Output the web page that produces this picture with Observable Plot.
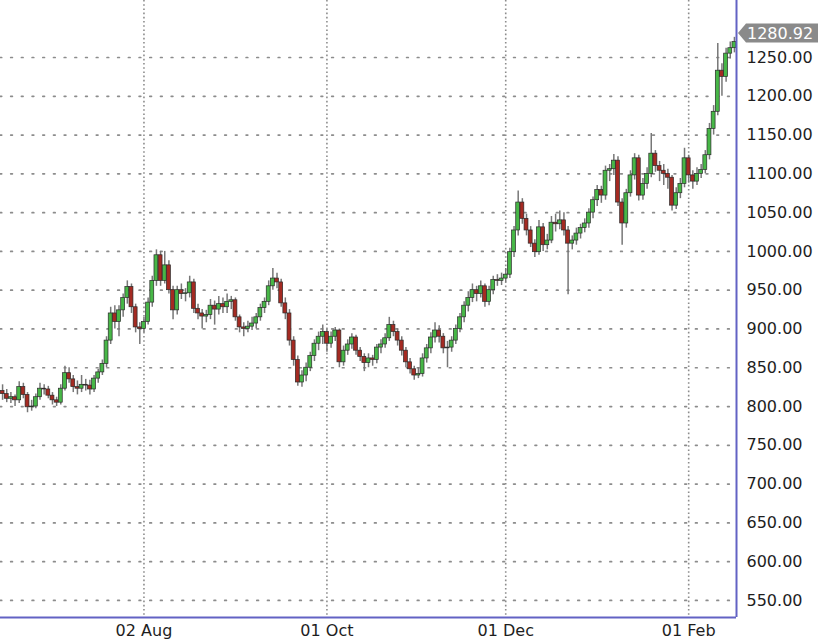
<!DOCTYPE html>
<html>
<head>
<meta charset="utf-8">
<script src="https://cdn.jsdelivr.net/npm/d3@7"></script>
<script src="https://cdn.jsdelivr.net/npm/@observablehq/plot@0.6"></script>
<style>
  html, body { margin: 0; padding: 0; background: #fff; }
  #chart { width: 818px; height: 641px; overflow: hidden; }
</style>
</head>
<body>
<div id="chart"></div>
<script>
// ---- Data ----
const startDate = "2010-06-15";   // first trading day shown
const tickDates = ["2010-08-02", "2010-10-01", "2010-12-01", "2011-02-01"];
const yTicks = [550, 600, 650, 700, 750, 800, 850, 900, 950, 1000, 1050, 1100, 1150, 1200, 1250];
const lastPrice = 1280.92;

const open = [
  820,816,810,812,808,825,815,799,800,812,
  823,822,814,808,805,823,843,835,825,823,
  828,827,822,836,844,855,885,920,909,924,
  940,954,928,902,900,909,934,962,995,962,
  982,950,924,950,945,946,960,926,920,916,
  918,930,925,932,928,935,937,915,902,900,
  903,907,915,927,935,955,965,960,933,920,
  885,860,831,840,850,865,881,890,896,881,
  890,898,857,872,880,889,872,864,856,862,
  860,876,880,888,905,896,885,872,857,848,
  840,842,862,875,889,898,890,875,876,885,
  900,915,930,940,950,945,955,935,950,963,
  962,965,970,999,1027,1063,1042,1027,1010,999,
  1031,1008,1014,1037,1035,1040,1027,1010,1014,1023,
  1030,1036,1050,1066,1079,1072,1104,1106,1117,1063,
  1036,1075,1098,1120,1072,1087,1100,1126,1110,1104,
  1100,1095,1059,1075,1087,1120,1098,1090,1100,1105,
  1124,1158,1180,1233,1225,1255,1262
];
const high = [
  828,822,818,815,832,830,818,808,816,830,
  828,826,818,812,828,852,850,840,833,840,
  835,834,840,848,860,890,928,930,930,945,
  962,958,932,908,915,940,968,1002,1000,1000,
  988,955,955,958,952,968,964,932,925,924,
  938,936,942,940,945,942,940,918,908,910,
  915,920,932,940,962,978,972,964,940,925,
  890,865,846,856,870,886,896,905,900,896,
  902,900,878,886,894,892,876,868,868,866,
  880,886,894,915,910,900,890,876,862,852,
  850,868,880,895,908,904,894,884,890,905,
  920,935,948,958,955,962,958,955,968,970,
  972,978,1004,1032,1078,1068,1048,1032,1015,1040,
  1036,1022,1045,1048,1052,1050,1032,1020,1030,1035,
  1042,1055,1070,1085,1084,1110,1112,1125,1122,1068,
  1080,1104,1126,1124,1094,1108,1152,1130,1116,1112,
  1106,1098,1082,1094,1133,1124,1104,1108,1112,1130,
  1165,1188,1268,1242,1262,1270,1276
];
const low = [
  808,805,804,800,804,810,792,794,797,808,
  815,810,802,800,802,820,830,818,815,818,
  820,815,818,830,840,850,880,900,890,915,
  932,920,895,880,895,905,928,955,955,958,
  945,912,918,938,935,940,920,912,900,908,
  912,905,918,920,920,925,910,895,890,895,
  898,900,910,920,930,950,952,928,912,878,
  852,826,825,832,845,858,872,880,870,875,
  884,850,852,866,874,866,858,845,850,852,
  855,868,875,884,890,878,865,850,842,834,
  836,838,856,868,882,882,868,850,870,880,
  895,908,922,934,935,940,928,930,944,955,
  956,960,965,992,1020,1035,1020,1005,992,995,
  1000,1002,1010,1025,1028,1020,944,1002,1008,1016,
  1024,1030,1042,1058,1062,1066,1090,1098,1058,1008,
  1030,1070,1092,1065,1066,1080,1095,1102,1090,1085,
  1080,1052,1054,1068,1082,1088,1080,1085,1094,1100,
  1118,1150,1175,1200,1218,1248,1256
];
const close = [
  816,810,812,808,825,815,799,800,812,823,
  822,814,808,805,823,843,835,825,823,828,
  827,822,836,844,855,885,920,909,924,940,
  954,928,902,900,909,934,962,995,962,982,
  950,924,950,945,946,960,926,920,916,918,
  930,925,932,928,935,937,915,902,900,903,
  907,915,927,935,955,965,960,933,920,885,
  860,831,840,850,865,881,890,896,881,890,
  898,857,872,880,889,872,864,856,862,860,
  876,880,888,905,896,885,872,857,848,840,
  842,862,875,889,898,890,875,876,885,900,
  915,930,940,950,945,955,935,950,963,962,
  965,970,999,1027,1063,1042,1027,1010,999,1031,
  1008,1014,1037,1035,1040,1027,1010,1014,1023,1030,
  1036,1050,1066,1079,1072,1104,1106,1117,1063,1036,
  1075,1098,1120,1072,1087,1100,1126,1110,1104,1100,
  1095,1059,1075,1087,1120,1098,1090,1100,1105,1124,
  1158,1180,1233,1225,1255,1262,1270
];

// ---- Build table ----
const n = close.length;
const dates = d3.utcDay.range(new Date(startDate), new Date("2011-12-31"))
  .filter(d => d.getUTCDay() !== 0 && d.getUTCDay() !== 6)
  .slice(0, n);
const fmt = d3.utcFormat("%d %b");
const data = close.map((c, i) => ({i, date: dates[i], open: open[i], high: high[i], low: low[i], close: c}));
const tickIdx = tickDates.map(s => dates.findIndex(d => +d === +new Date(s)));

const UP = "#47b747", DOWN = "#a42a22", BORDER = "#6262c4", GRID = "#8c8c8c";

const chart = Plot.plot({
  width: 818,
  height: 641,
  marginLeft: 0,
  marginRight: 82,
  marginTop: 0,
  marginBottom: 24,
  style: {fontFamily: "DejaVu Sans, Verdana, sans-serif", background: "#fff", overflow: "visible"},
  x: {type: "linear", domain: [-0.5, n - 0.5]},
  y: {domain: [528, 1323.5]},
  marks: [
    Plot.ruleY(yTicks, {stroke: GRID, strokeWidth: 1.7, strokeDasharray: "1.7,9", strokeLinecap: "round"}),
    Plot.ruleX(tickIdx, {stroke: GRID, strokeWidth: 1.6, strokeDasharray: "1.6,2.6"}),
    Plot.ruleX(data, {x: "i", y1: "low", y2: "high", stroke: "#777", strokeWidth: 1.5}),
    Plot.rect(data, {
      x1: d => d.i - 0.47, x2: d => d.i + 0.47,
      y1: "open", y2: "close",
      fill: d => d.close >= d.open ? UP : DOWN,
      stroke: "#2a2a2a", strokeWidth: 0.7
    }),
    Plot.ruleX([n - 0.5], {stroke: BORDER, strokeWidth: 2}),
    Plot.ruleY([528], {stroke: BORDER, strokeWidth: 2}),
    Plot.axisY({anchor: "right", ticks: yTicks, tickFormat: d => d.toFixed(2), tickSize: 0, tickPadding: 10, fontSize: 16, color: "#1e1e1e", label: null}),
    Plot.axisX(tickIdx, {tickFormat: i => fmt(dates[i]), tickSize: 0, tickPadding: 7, fontSize: 16, color: "#1e1e1e", label: null})
  ]
});

document.getElementById("chart").appendChild(chart);

// Last-price marker attached to the right axis, placed through the plot's scales
const px = chart.scale("x").apply(n - 0.5);
const py = chart.scale("y").apply(lastPrice);
const g = d3.select(chart).append("g");
g.append("path")
  .attr("d", `M${px + 2},${py} L${px + 10},${py - 9.5} L818,${py - 9.5} L818,${py + 9.5} L${px + 10},${py + 9.5} Z`)
  .attr("fill", "#8a8a8a");
g.append("text")
  .attr("x", px + 11).attr("y", py).attr("dy", "0.36em")
  .attr("text-anchor", "start")
  .attr("fill", "#fff").attr("font-size", 16)
  .attr("font-family", "DejaVu Sans, Verdana, sans-serif")
  .text(lastPrice.toFixed(2));
</script>
</body>
</html>
